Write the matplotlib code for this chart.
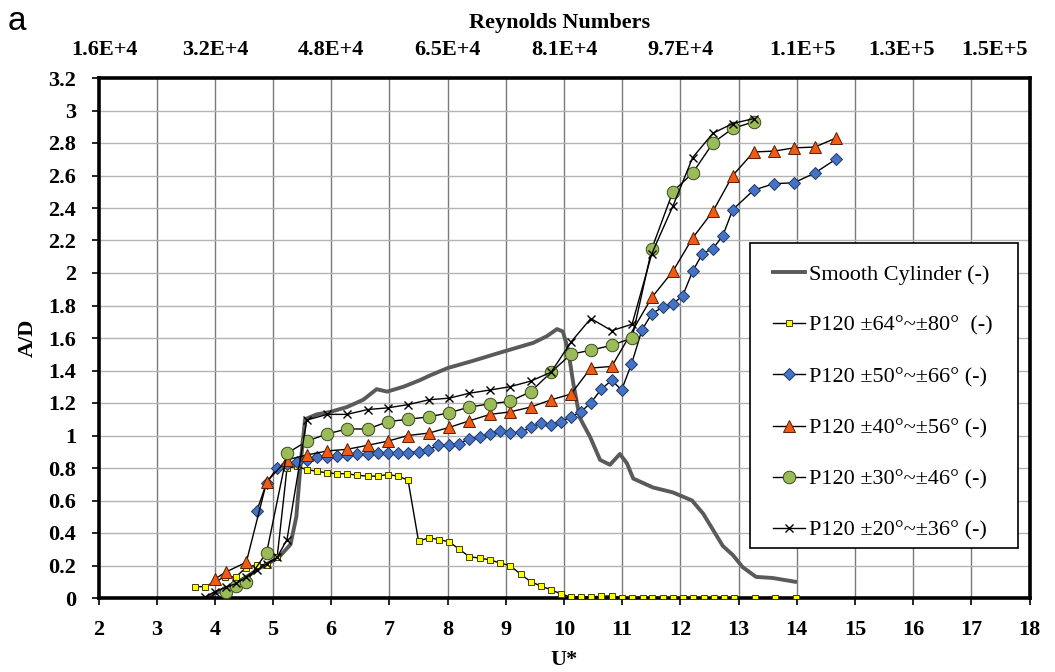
import numpy as np
import matplotlib
matplotlib.use("Agg")
import matplotlib.pyplot as plt
from matplotlib.lines import Line2D
from matplotlib.patches import Rectangle

plt.rcParams['font.family'] = ['Liberation Serif', 'DejaVu Serif']

# ---- data ----
smooth_x = [3.85, 4.2, 4.5, 4.8, 5.1, 5.3, 5.4, 5.48, 5.55, 5.75, 5.98, 6.27, 6.55, 6.78, 6.96,
            7.24, 7.52, 7.7, 8.0, 8.44, 8.9, 9.47, 9.7, 9.88, 9.98, 10.07, 10.16, 10.27, 10.45,
            10.62, 10.79, 10.96, 11.08, 11.19, 11.53, 11.87, 12.2, 12.39, 12.56, 12.73, 12.9,
            13.07, 13.3, 13.59, 13.97]
smooth_y = [0.0, 0.06, 0.12, 0.19, 0.25, 0.33, 0.5, 0.85, 1.10, 1.13, 1.145, 1.175, 1.22, 1.285, 1.27,
            1.30, 1.34, 1.37, 1.415, 1.46, 1.51, 1.57, 1.61, 1.655, 1.64, 1.53, 1.32, 1.11, 0.99,
            0.85, 0.82, 0.886, 0.83, 0.735, 0.68, 0.65, 0.60, 0.52, 0.42, 0.32, 0.265,
            0.19, 0.13, 0.123, 0.10]

p64_x = [3.66, 3.83, 4.17, 4.36, 4.53, 4.72, 4.89, 5.07, 5.24, 5.41, 5.58, 5.75, 5.93, 6.10,
         6.27, 6.45, 6.63, 6.80, 6.97, 7.15, 7.32, 7.50, 7.68, 7.85, 8.03, 8.20, 8.37, 8.55,
         8.73, 8.90, 9.07, 9.26, 9.43, 9.60, 9.78, 9.95, 10.12, 10.30, 10.47, 10.64, 10.82,
         10.99, 11.17, 11.35, 11.52, 11.70, 11.87, 12.05, 12.22, 12.40, 12.57, 12.75, 12.92,
         13.28, 13.63, 13.98]
p64_y = [0.07, 0.07, 0.13, 0.13, 0.185, 0.205, 0.205, 0.25, 0.80, 0.81, 0.79, 0.78, 0.77, 0.765,
         0.765, 0.755, 0.75, 0.75, 0.76, 0.75, 0.725, 0.35, 0.37, 0.36, 0.345, 0.30, 0.255, 0.245,
         0.235, 0.215, 0.20, 0.145, 0.10, 0.074, 0.05, 0.025, 0.005, 0.008, 0.008, 0.01, 0.014,
         0.0, 0.0, 0.0, 0.0, 0.0, 0.0, 0.0, 0.0, 0.0, 0.0, 0.0, 0.0,
         0.0, 0.0, 0.0]

p50_x = [4.72, 4.89, 5.07, 5.24, 5.41, 5.58, 5.75, 5.93, 6.10, 6.27, 6.45, 6.63, 6.80, 6.97,
         7.15, 7.32, 7.50, 7.66, 7.84, 8.03, 8.20, 8.37, 8.55, 8.73, 8.90, 9.07, 9.26, 9.43,
         9.60, 9.78, 9.95, 10.12, 10.29, 10.46, 10.64, 10.82, 10.99, 11.16, 11.34, 11.51,
         11.70, 11.87, 12.04, 12.21, 12.38, 12.56, 12.73, 12.90, 13.26, 13.61, 13.95, 14.31, 14.67]
p50_y = [0.535, 0.71, 0.80, 0.825, 0.837, 0.85, 0.865, 0.87, 0.875, 0.88, 0.885, 0.885, 0.89, 0.89,
         0.895, 0.895, 0.90, 0.91, 0.94, 0.94, 0.95, 0.98, 0.99, 1.01, 1.03, 1.016, 1.02, 1.05,
         1.077, 1.065, 1.085, 1.115, 1.146, 1.20, 1.285, 1.34, 1.28, 1.44, 1.65, 1.75,
         1.79, 1.81, 1.86, 2.01, 2.12, 2.15, 2.23, 2.39, 2.51, 2.55, 2.555, 2.615, 2.70]

p40_x = [4.0, 4.19, 4.54, 4.89, 5.24, 5.58, 5.93, 6.27, 6.63, 6.97, 7.32, 7.68, 8.03, 8.37, 8.73,
         9.07, 9.43, 9.78, 10.12, 10.46, 10.82, 11.51, 11.87, 12.21, 12.56, 12.90, 13.26, 13.61,
         13.95, 14.31, 14.67]
p40_y = [0.117, 0.16, 0.22, 0.715, 0.85, 0.88, 0.905, 0.915, 0.94, 0.965, 1.0, 1.015, 1.05, 1.09,
         1.13, 1.145, 1.175, 1.22, 1.255, 1.415, 1.425, 1.85, 2.01, 2.215, 2.38, 2.60, 2.745, 2.75,
         2.77, 2.775, 2.83]

p30_x = [4.19, 4.37, 4.54, 4.89, 5.24, 5.58, 5.93, 6.27, 6.63, 6.97, 7.32, 7.68, 8.03, 8.37, 8.73,
         9.07, 9.43, 9.78, 10.12, 10.46, 10.82, 11.17, 11.51, 11.87, 12.21, 12.56, 12.90, 13.26]
p30_y = [0.035, 0.075, 0.10, 0.28, 0.89, 0.965, 1.01, 1.04, 1.04, 1.085, 1.10, 1.115, 1.14, 1.175,
         1.195, 1.21, 1.27, 1.39, 1.50, 1.525, 1.555, 1.60, 2.15, 2.50, 2.615, 2.80, 2.89, 2.93]

p20_x = [3.83, 4.0, 4.19, 4.37, 4.54, 4.72, 4.89, 5.07, 5.24, 5.58, 5.93, 6.27, 6.63, 6.97, 7.32,
         7.68, 8.03, 8.37, 8.73, 9.07, 9.43, 9.78, 10.12, 10.46, 10.82, 11.17, 11.51, 11.87, 12.21,
         12.56, 12.90, 13.26]
p20_y = [0.005, 0.04, 0.065, 0.09, 0.13, 0.17, 0.21, 0.25, 0.36, 1.095, 1.13, 1.13, 1.16, 1.17, 1.19,
         1.22, 1.23, 1.26, 1.28, 1.30, 1.335, 1.39, 1.575, 1.72, 1.645, 1.685, 2.12, 2.41, 2.71,
         2.86, 2.92, 2.95]

labels = ['Smooth Cylinder (-)',
          'P120 ±64°~±80°  (-)',
          'P120 ±50°~±66° (-)',
          'P120 ±40°~±56° (-)',
          'P120 ±30°~±46° (-)',
          'P120 ±20°~±36° (-)']

re_labels = ['1.6E+4', '3.2E+4', '4.8E+4', '6.5E+4', '8.1E+4', '9.7E+4', '1.1E+5', '1.3E+5', '1.5E+5']
re_pos = [2.1, 4, 6, 8, 10, 12, 14.1, 15.8, 17.4]

W, H = 1055, 672
fig = plt.figure(figsize=(W / 100, H / 100), dpi=100)
ax = fig.add_axes([98.5 / W, (H - 598) / H, 931 / W, 520 / H])

ax.set_xlim(2, 18)
ax.set_ylim(0, 3.2)
yt = np.round(np.arange(0, 3.21, 0.2), 1)
ax.set_xticks(range(2, 19))
ax.set_yticks(yt)
ax.set_yticklabels(['%g' % v for v in yt])
for v in range(3, 18):
    ax.axvline(v, color='#7a7a7a', lw=1.0, zorder=0)
for v in yt[1:-1]:
    ax.axhline(v, color='#b4b4b4', lw=1.0, zorder=0)
for s in ax.spines.values():
    s.set_linewidth(2.6)
ax.tick_params(direction='out', length=5, width=1.2, labelsize=16)
ax.tick_params(axis='x', pad=11)
ax.tick_params(axis='y', pad=11)
for t in ax.get_xticklabels() + ax.get_yticklabels():
    t.set_fontweight('bold')

ax.plot(smooth_x, smooth_y, color='#5a5a5a', lw=2.8, zorder=2)
ax.plot(p64_x, p64_y, color='black', lw=1.0, marker='s', ms=5, mfc='#ffff00', mec='#404000',
        mew=0.7, zorder=3)
ax.plot(p50_x, p50_y, color='black', lw=1.0, marker='D', ms=6, mfc='#4472c4', mec='#1f3864',
        mew=0.7, zorder=4)
ax.plot(p40_x, p40_y, color='black', lw=1.0, marker='^', ms=8, mfc='#f05a14', mec='#5a2000',
        mew=0.7, zorder=5)
ax.plot(p30_x, p30_y, color='black', lw=1.0, marker='o', ms=9, mfc='#9bbb59', mec='#3a4a20',
        mew=0.7, zorder=6)
ax.plot(p20_x, p20_y, color='black', lw=1.0, marker='x', ms=6, mec='black', mew=1.0, zorder=7)

# legend: frame drawn as a box, entries placed inside it
ax.add_patch(Rectangle((0.6998, 0.0962), 0.2878, 0.5865, transform=ax.transAxes,
                       facecolor='white', edgecolor='black', lw=1.2, zorder=9))
handles = [
    Line2D([], [], color='#5a5a5a', lw=2.8),
    Line2D([], [], color='black', lw=1.0, marker='s', ms=5, mfc='#ffff00', mec='#404000', mew=0.7),
    Line2D([], [], color='black', lw=1.0, marker='D', ms=6, mfc='#4472c4', mec='#1f3864', mew=0.7),
    Line2D([], [], color='black', lw=1.0, marker='^', ms=8, mfc='#f05a14', mec='#5a2000', mew=0.7),
    Line2D([], [], color='black', lw=1.0, marker='o', ms=9, mfc='#9bbb59', mec='#3a4a20', mew=0.7),
    Line2D([], [], color='black', lw=1.0, marker='x', ms=6, mec='black', mew=1.0),
]
leg = ax.legend(handles, labels, loc='upper left', bbox_to_anchor=(0.7245, 0.642),
                prop={'family': 'Liberation Serif', 'size': 16}, frameon=False,
                borderpad=0, labelspacing=1.38, handlelength=1.45, handletextpad=0.15,
                borderaxespad=0)
leg.set_zorder(10)

ax.set_xlabel('U*', fontsize=16, fontweight='bold', labelpad=7)
ax.set_ylabel('A/D', fontsize=16, fontweight='bold', labelpad=8)

# top Reynolds-number scale
for p, lab in zip(re_pos, re_labels):
    ax.text(p, 1.054, lab, transform=ax.get_xaxis_transform(), ha='center', va='center',
            fontsize=16, fontweight='bold')
fig.text(560 / W, 1 - 23 / H, 'Reynolds Numbers', ha='center', va='center',
         fontsize=16, fontweight='bold')
fig.text(17 / W, 1 - 22 / H, 'a', ha='center', va='center', fontsize=24,
         family='Liberation Sans')

fig.savefig('out.png', dpi=100)
